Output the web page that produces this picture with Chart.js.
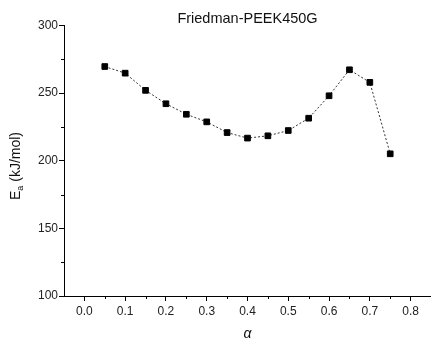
<!DOCTYPE html>
<html>
<head>
<meta charset="utf-8">
<script src="https://cdn.jsdelivr.net/npm/chart.js@4"></script>
<style>
  html, body { margin: 0; padding: 0; background: #fff; }
  #wrap { width: 431px; height: 338px; }
</style>
</head>
<body>
<div id="wrap"><canvas id="myChart" width="431" height="338"></canvas></div>
<script>
// ── Data ──────────────────────────────────────────────────────────────────────
const alpha = [0.05, 0.10, 0.15, 0.20, 0.25, 0.30, 0.35, 0.40, 0.45, 0.50, 0.55, 0.60, 0.65, 0.70, 0.75];
const ea    = [269.6, 264.7, 252.0, 242.1, 234.3, 228.7, 220.8, 216.7, 218.4, 222.3, 231.4, 248.0, 267.2, 257.9, 205.1];

const xTicks      = [0.0, 0.1, 0.2, 0.3, 0.4, 0.5, 0.6, 0.7, 0.8];
const xMinorTicks = [0.05, 0.15, 0.25, 0.35, 0.45, 0.55, 0.65, 0.75];
const yTicks      = [100, 150, 200, 250, 300];
const yMinorTicks = [125, 175, 225, 275];

const FONT = "'Liberation Sans', Arial, sans-serif";

// ── Minor ticks + y title with subscript ─────────────────────────────────────
const extras = {
  id: "extras",
  afterDraw(chart) {
    const ctx = chart.ctx;
    const xs = chart.scales.x, ys = chart.scales.y;
    ctx.save();
    ctx.strokeStyle = "#000";
    ctx.lineWidth = 1;
    ctx.beginPath();
    xMinorTicks.forEach(v => {
      const px = Math.round(xs.getPixelForValue(v)) + 0.5;
      ctx.moveTo(px, xs.top);
      ctx.lineTo(px, xs.top + 3);
    });
    yMinorTicks.forEach(v => {
      const py = Math.round(ys.getPixelForValue(v)) + 0.5;
      ctx.moveTo(ys.right, py);
      ctx.lineTo(ys.right - 3, py);
    });
    ctx.stroke();

    // "Ea (kJ/mol)" rotated
    ctx.translate(16, 166);
    ctx.rotate(-Math.PI / 2);
    ctx.fillStyle = "#111";
    ctx.textBaseline = "middle";
    ctx.font = "14px " + FONT;
    const wE   = ctx.measureText("E").width;
    ctx.font = "9px " + FONT;
    const wA   = ctx.measureText("a").width;
    ctx.font = "14px " + FONT;
    const rest = " (kJ/mol)";
    const wR   = ctx.measureText(rest).width;
    let x0 = -(wE + wA + wR) / 2;
    ctx.textAlign = "left";
    ctx.fillText("E", x0, 0);
    ctx.font = "9px " + FONT;
    ctx.fillText("a", x0 + wE, 5);
    ctx.font = "14px " + FONT;
    ctx.fillText(rest, x0 + wE + wA, 0);
    ctx.restore();
  },
};

// ── Chart ────────────────────────────────────────────────────────────────────
new Chart(document.getElementById("myChart").getContext("2d"), {
  type: "scatter",
  data: {
    datasets: [{
      label: "Friedman",
      data: alpha.map((a, i) => ({ x: a, y: ea[i] })),
      showLine: true,
      borderColor: "#333",
      borderWidth: 1,
      borderDash: [2, 2],
      pointStyle: "rect",
      pointRadius: 4,
      pointBorderWidth: 1,
      pointBackgroundColor: "#000",
      pointBorderColor: "#000",
    }],
  },
  options: {
    animation: false,
    responsive: false,
    layout: { autoPadding: false, padding: 0 },
    plugins: {
      legend: { display: false },
      tooltip: { enabled: false },
      title: {
        display: true,
        fullSize: false,
        text: "Friedman-PEEK450G",
        color: "#111",
        font: { family: FONT, size: 14.5, weight: "normal" },
        padding: { top: 10, bottom: -2 },
      },
    },
    scales: {
      x: {
        type: "linear",
        min: -0.05, max: 0.85,
        afterBuildTicks: s => { s.ticks = xTicks.map(v => ({ value: v })); },
        afterFit: s => { s.height = 42; },
        ticks: {
          color: "#222",
          font: { family: FONT, size: 12 },
          padding: 3,
          maxRotation: 0,
          autoSkip: false,
          callback: v => v.toFixed(1),
        },
        grid: { drawOnChartArea: false, drawTicks: true, tickLength: 5, tickColor: "#000" },
        border: { color: "#000", width: 1 },
        title: {
          display: true,
          text: "α",
          color: "#111",
          font: { family: FONT, size: 14, style: "italic" },
          padding: { top: 0, bottom: -5 },
        },
      },
      y: {
        type: "linear",
        min: 100, max: 300,
        afterBuildTicks: s => { s.ticks = yTicks.map(v => ({ value: v })); },
        afterFit: s => { s.width = 64; },
        ticks: {
          color: "#222",
          font: { family: FONT, size: 12 },
          padding: 1,
          autoSkip: false,
        },
        grid: { drawOnChartArea: false, drawTicks: true, tickLength: 5, tickColor: "#000" },
        border: { color: "#000", width: 1 },
      },
    },
  },
  plugins: [extras],
});
</script>
</body>
</html>
